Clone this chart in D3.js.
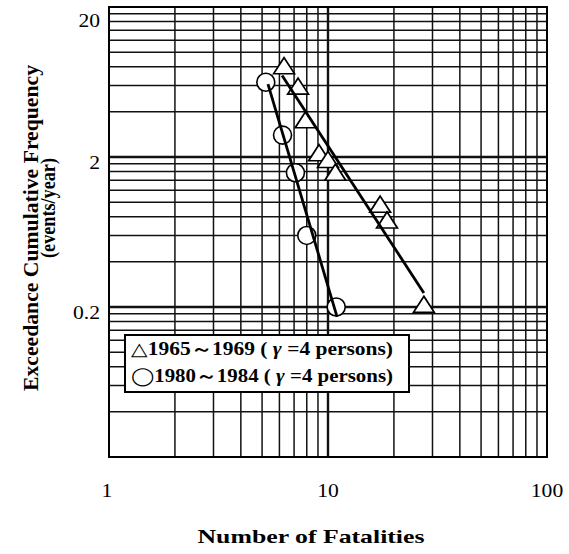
<!DOCTYPE html>
<html>
<head>
<meta charset="utf-8">
<script src="https://d3js.org/d3.v7.min.js"></script>
<style>
  html, body { margin: 0; padding: 0; background: #fff; }
  svg { display: block; }
  text { font-family: "Liberation Serif", "Times New Roman", serif; fill: #000; }
</style>
</head>
<body>
<script>
// Axis ticks
const xTickValues = [1, 10, 100];
const xTickLabels = ["1", "10", "100"];
const yTickValues = [20, 2, 0.2];
const yTickLabels = ["20", "2", "0.2"];

// 1965–1969 events (triangles)
const triFatalities = [6.3, 7.3, 7.9, 9.1, 10.0, 10.8, 17.3, 18.6, 27.4];
const triFrequency  = [7.8, 5.7, 3.4, 2.05, 1.85, 1.52, 0.93, 0.73, 0.2];
// 1980–1984 events (circles)
const cirFatalities = [5.2, 6.2, 7.1, 8.0, 10.9];
const cirFrequency  = [6.3, 2.8, 1.57, 0.6, 0.2];

// Fitted lines, end points
const triFitFatalities = [6.17, 27.4];
const triFitFrequency  = [7.0, 0.248];
const cirFitFatalities = [5.32, 11.0];
const cirFitFrequency  = [6.13, 0.172];

const W = 569, H = 554;
const m = { left: 109, right: 22, top: 7, bottom: 97 };

const svg = d3.select("body").append("svg").attr("width", W).attr("height", H);

const x = d3.scaleLog().domain([1, 100]).range([m.left, W - m.right]);
const y = d3.scaleLog().domain([0.02, 20]).range([H - m.bottom, m.top]);

// Grid lines at 1..9 × each decade
const xGrid = [];
for (const d of [1, 10]) for (let k = 1; k <= 10; k++) xGrid.push(d * k);
const yGrid = [];
for (const d of [0.02, 0.2, 2]) for (let k = 1; k <= 10; k++) yGrid.push(+(d * k).toPrecision(3));

const g = svg.append("g");
g.selectAll("line.vx").data(Array.from(new Set(xGrid))).join("line")
  .attr("x1", d => x(d)).attr("x2", d => x(d))
  .attr("y1", y(0.02)).attr("y2", y(20))
  .attr("stroke", "#111")
  .attr("stroke-width", d => (d === 10 ? 2.4 : 1.5));
g.selectAll("line.hy").data(Array.from(new Set(yGrid))).join("line")
  .attr("y1", d => y(d)).attr("y2", d => y(d))
  .attr("x1", x(1)).attr("x2", x(100))
  .attr("stroke", "#111")
  .attr("stroke-width", d => (d === 0.2 || d === 2 ? 2.4 : 1.5));

// Frame
svg.append("rect")
  .attr("x", x(1)).attr("y", y(20))
  .attr("width", x(100) - x(1)).attr("height", y(0.02) - y(20))
  .attr("fill", "none").attr("stroke", "#000").attr("stroke-width", 2);

// Markers
const triSym = d3.symbol(d3.symbolTriangle, 150);
svg.append("g").selectAll("path").data(d3.zip(triFatalities, triFrequency)).join("path")
  .attr("d", triSym)
  .attr("transform", d => `translate(${x(d[0])},${y(d[1])}) scale(1.12,1)`)
  .attr("fill", "#fff").attr("stroke", "#000").attr("stroke-width", 1.6);

svg.append("g").selectAll("circle").data(d3.zip(cirFatalities, cirFrequency)).join("circle")
  .attr("cx", d => x(d[0])).attr("cy", d => y(d[1])).attr("r", 9)
  .attr("fill", "#fff").attr("stroke", "#000").attr("stroke-width", 1.6);

// Fitted lines
const line = d3.line().x(d => x(d[0])).y(d => y(d[1]));
svg.append("path").datum(d3.zip(triFitFatalities, triFitFrequency))
  .attr("d", line).attr("fill", "none").attr("stroke", "#000").attr("stroke-width", 2.8);
svg.append("path").datum(d3.zip(cirFitFatalities, cirFitFrequency))
  .attr("d", line).attr("fill", "none").attr("stroke", "#000").attr("stroke-width", 2.8);

// Widen horizontal text slightly
function widen(sel, f) {
  sel.each(function () {
    const w = this.getComputedTextLength();
    d3.select(this).attr("textLength", w * f).attr("lengthAdjust", "spacingAndGlyphs");
  });
}

// Tick labels
const xt = svg.append("g").selectAll("text").data(d3.zip(xTickValues, xTickLabels)).join("text")
  .attr("x", d => x(d[0]) - (d[0] === 1 ? 2 : 0))
  .attr("y", 497)
  .attr("text-anchor", "middle")
  .attr("font-size", 18)
  .text(d => d[1]);
widen(xt, 1.2);

const yt = svg.append("g").selectAll("text").data(d3.zip(yTickValues, yTickLabels)).join("text")
  .attr("x", 100)
  .attr("y", d => Math.max(y(d[0]) + 12, m.top + 20))
  .attr("text-anchor", "end")
  .attr("font-size", 18)
  .text(d => d[1]);
widen(yt, 1.2);

// Axis titles
svg.append("text")
  .attr("x", 311).attr("y", 543)
  .attr("text-anchor", "middle")
  .attr("font-size", 19).attr("font-weight", "bold")
  .attr("textLength", 227).attr("lengthAdjust", "spacingAndGlyphs")
  .text("Number of Fatalities");

svg.append("text")
  .attr("transform", "translate(38,228) rotate(-90)")
  .attr("text-anchor", "middle")
  .style("font-size", "20px").attr("font-weight", "bold")
  .attr("textLength", 326).attr("lengthAdjust", "spacingAndGlyphs")
  .text("Exceedance Cumulative Frequency");

svg.append("text")
  .attr("transform", "translate(55,208) rotate(-90)")
  .attr("text-anchor", "middle")
  .style("font-size", "20px").attr("font-weight", "bold")
  .attr("textLength", 100).attr("lengthAdjust", "spacingAndGlyphs")
  .text("(events/year)");

// Legend
const legend = svg.append("g");
legend.append("rect")
  .attr("x", 125).attr("y", 335).attr("width", 284).attr("height", 57)
  .attr("fill", "#fff").attr("stroke", "#000").attr("stroke-width", 2);

const legendRows = [
  { mark: "△", years: "1965～1969", base: 355 },
  { mark: "◯", years: "1980～1984", base: 382 }
];
legendRows.forEach(r => {
  const t = legend.append("text")
    .attr("x", 131).attr("y", r.base)
    .attr("font-size", 18).attr("font-weight", "bold")
    .attr("textLength", 262).attr("lengthAdjust", "spacingAndGlyphs");
  t.append("tspan").attr("font-weight", "normal").text(r.mark);
  t.append("tspan").text(r.years + " ( ");
  t.append("tspan").attr("font-style", "italic").text("γ");
  t.append("tspan").text(" =4 persons)");
});
</script>
</body>
</html>
